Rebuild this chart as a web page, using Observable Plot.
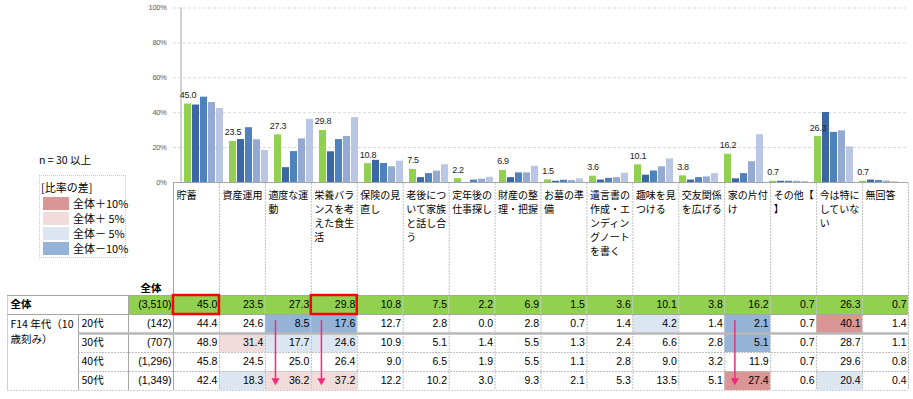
<!DOCTYPE html>
<html>
<head>
<meta charset="utf-8">
<script src="https://cdn.jsdelivr.net/npm/d3@7"></script>
<script src="https://cdn.jsdelivr.net/npm/@observablehq/plot@0.6"></script>
<style>
  body { margin: 0; background: #fff; }
  #root { position: relative; width: 913px; height: 399px; overflow: hidden; font-family: "Noto Sans CJK JP", sans-serif; color: #000; }
  #root > * { position: absolute; }
  #note { left: 39px; top: 152px; font-size: 10.5px; white-space: pre; }
  #legendBox { left: 39px; top: 175px; width: 87px; height: 83px; border: 1px dotted #c8c8c8; box-sizing: border-box; }
  #legendTitle { left: 41px; top: 179px; font-size: 11px; }
  #legendWrap { left: 43px; top: 197px; width: 100px; }
  #legendWrap * { overflow: visible !important; text-overflow: clip !important; white-space: nowrap !important; }
  .lg-swatches { margin: 0 !important; font-family: "Noto Sans CJK JP", sans-serif !important; font-size: 11px !important; }
  .lg-swatch { padding-bottom: 2px !important; line-height: 13px; }
  .lg-swatch > svg { margin-right: 4px !important; }
</style>
</head>
<body>
<div id="root"></div>
<script>
// ---------- data ----------
const categories = ["貯蓄","資産運用","適度な運動","栄養バランスを考えた食生活","保険の見直し","老後について家族と話し合う","定年後の仕事探し","財産の整理・把握","お墓の準備","遺言書の作成・エンディングノートを書く","趣味を見つける","交友関係を広げる","家の片付け","その他【　】","今は特にしていない","無回答"];
const groups = ["全体","20代","30代","40代","50代"];
const sampleSizes = [3510, 142, 707, 1296, 1349];
const totalValues = [45.0,23.5,27.3,29.8,10.8,7.5,2.2,6.9,1.5,3.6,10.1,3.8,16.2,0.7,26.3,0.7];
const age20Values = [44.4,24.6,8.5,17.6,12.7,2.8,0.0,2.8,0.7,1.4,4.2,1.4,2.1,0.7,40.1,1.4];
const age30Values = [48.9,31.4,17.7,24.6,10.9,5.1,1.4,5.5,1.3,2.4,6.6,2.8,5.1,0.7,28.7,1.1];
const age40Values = [45.8,24.5,25.0,26.4,9.0,6.5,1.9,5.5,1.1,2.8,9.0,3.2,11.9,0.7,29.6,0.8];
const age50Values = [42.4,18.3,36.2,37.2,12.2,10.2,3.0,9.3,2.1,5.3,13.5,5.1,27.4,0.6,20.4,0.4];
const yTicks = [0,20,40,60,80,100];
const groupHeader = "F14 年代（10歳刻み）";
const totalLabel = "全体";
const noteText = "n = 30 以上";
const legendTitle = "[比率の差]";
const legendLabels = ["全体＋10%","全体＋ 5%","全体－ 5%","全体－10%"];
const highlightedCats = ["貯蓄","栄養バランスを考えた食生活"];
const arrowCats = ["適度な運動","栄養バランスを考えた食生活","家の片付け"];

// ---------- styles ----------
const barColors = ["#92D050","#3B67A4","#4F81BD","#95AAD3","#B9C7E4"];
const diffColors = ["#DA9694","#F2DCDB","#DCE6F1","#95B3D7"];
const green = "#92D050";
const pink = "#F5287A";
const cjk = "Noto Sans CJK JP";
const num = "Liberation Sans";

const series = [totalValues, age20Values, age30Values, age40Values, age50Values];
const data = groups.flatMap((g, gi) => categories.map((c, ci) => ({cat: c, ci, group: g, gi, value: series[gi][ci]})));

function diffLevel(d) {
  if (d.gi === 0) return null;
  const diff = d.value - totalValues[d.ci];
  if (diff >= 10) return 0;
  if (diff >= 5) return 1;
  if (diff <= -10) return 3;
  if (diff <= -5) return 2;
  return null;
}
function wrapUnits(s, max) {
  const lines = []; let cur = "", w = 0;
  for (const ch of s) {
    const cw = ch.charCodeAt(0) > 0xff ? 2 : 1;
    if (w + cw > max) { lines.push(cur); cur = ""; w = 0; }
    cur += ch; w += cw;
  }
  lines.push(cur);
  return lines.map(l => l.trim()).join("\n");
}

const root = document.getElementById("root");

// ---------- chart ----------
const W = 913, ML = 173, MR = 5;
const step = (W - ML - MR) / categories.length;
const pad = 3, bw = (step - 2 * pad) / groups.length;

const chart = Plot.plot({
  width: W, height: 192,
  marginLeft: ML, marginRight: MR, marginTop: 7.5, marginBottom: 10,
  x: {domain: categories, padding: 0, axis: null},
  y: {domain: [0, 100], ticks: yTicks, tickFormat: d => d + "%", tickSize: 0, tickPadding: 7, label: null},
  style: {fontFamily: num, fontSize: "7.5px", color: "#595959", background: "transparent", letterSpacing: "-0.3px", overflow: "visible"},
  marks: [
    Plot.ruleY(yTicks.filter(d => d > 0), {stroke: "#d9d9d9", strokeDasharray: "3,2"}),
    ...groups.map((g, i) => Plot.barY(data.filter(d => d.gi === i), {
      x: "cat", y: "value", fill: barColors[i],
      insetLeft: pad + i * bw, insetRight: pad + (groups.length - 1 - i) * bw
    })),
    Plot.ruleY([0], {stroke: "#a6a6a6"}),
    Plot.ruleX([categories[0]], {dx: -step / 2, stroke: "#a6a6a6"}),
    Plot.text(data.filter(d => d.gi === 0), {
      x: "cat", y: "value", text: d => d.value.toFixed(1),
      dx: -2 * bw, dy: -6, lineAnchor: "bottom", fontSize: 9, fill: "#222", fontFamily: num
    })
  ]
});
chart.style.left = "0px"; chart.style.top = "0px";
root.appendChild(chart);

// ---------- table ----------
const LEFT = -(ML - 7) / step;     // left border of table
const AGECOL = -(ML - 78) / step;  // left edge of age label column
const NCOL = -(ML - 128) / step;   // left edge of n column
const HEADER_TOP = -112 / 19;      // header row top, in row units
const nCats = categories.length;

const fmt = d3.format(",");
const cells = data.map(d => ({...d, level: diffLevel(d)}));
const arrowData = arrowCats.map(c => ({ci: categories.indexOf(c)}));
const lineGray = "#a6a6a6", dotGray = "#c0c0c0";

const table = Plot.plot({
  width: W, height: 216,
  x: {domain: [LEFT, nCats], range: [7, W - MR], axis: null},
  y: {domain: [HEADER_TOP, groups.length], range: [0, 207], axis: null},
  style: {background: "transparent", fontFamily: cjk},
  marks: [
    // cell fills
    Plot.rect(cells.filter(d => d.gi === 0 || d.level !== null), {
      x1: d => d.ci, x2: d => d.ci + 1, y1: d => d.gi, y2: d => d.gi + 1,
      fill: d => d.gi === 0 ? green : diffColors[d.level]
    }),
    Plot.rect([groups[0]], {x1: NCOL, x2: 0, y1: 0, y2: 1, fill: green}),
    // vertical lines
    Plot.ruleX(d3.range(1, nCats + 1), {y1: HEADER_TOP, y2: groups.length, stroke: dotGray, strokeDasharray: "2,1"}),
    Plot.ruleX([0], {y1: HEADER_TOP, y2: groups.length, stroke: lineGray}),
    Plot.ruleX([NCOL], {y1: 0, y2: groups.length, stroke: lineGray}),
    Plot.ruleX([AGECOL], {y1: 1, y2: groups.length, stroke: lineGray}),
    Plot.ruleX([LEFT], {y1: 0, y2: groups.length, stroke: "#d0d0d0"}),
    // horizontal lines
    Plot.ruleY([0, 1], {x1: LEFT, x2: nCats, stroke: lineGray}),
    Plot.ruleY([2], {x1: AGECOL, x2: nCats, stroke: "#b8b8b8", strokeWidth: 2.5}),
    Plot.ruleY([3, 4], {x1: AGECOL, x2: nCats, stroke: dotGray, strokeDasharray: "2,1"}),
    Plot.ruleY([groups.length], {x1: LEFT, x2: nCats, stroke: "#d0d0d0", strokeDasharray: "2,1"}),
    // header labels
    Plot.text(categories, {
      x: (d, i) => i, y: HEADER_TOP, text: d => wrapUnits(d, 8),
      textAnchor: "start", lineAnchor: "top", dx: 3, dy: 5, lineHeight: 1.42, fontSize: 10, fill: "#000"
    }),
    Plot.text([totalLabel], {x: NCOL / 2, y: 0, dy: -7, fontWeight: "bold", fontSize: 10.5, fill: "#000"}),
    // row labels
    Plot.text([totalLabel], {x: LEFT, y: 0.5, dx: 3, textAnchor: "start", fontWeight: "bold", fontSize: 10.5, fill: "#000"}),
    Plot.text([groupHeader], {x: LEFT, y: 1, text: d => wrapUnits(d, 12), dx: 3, dy: 3, textAnchor: "start", lineAnchor: "top", lineHeight: 1.4, fontSize: 10.5, fill: "#000"}),
    Plot.text(groups.slice(1), {x: AGECOL, y: (d, i) => i + 1.5, dx: 3, textAnchor: "start", fontSize: 10.5, fill: "#000"}),
    Plot.text(sampleSizes, {x: 0, y: (d, i) => i + 0.5, text: d => `(${fmt(d)})`, dx: -2, textAnchor: "end", fontSize: 10.5, fontFamily: num, fill: "#000"}),
    // values
    Plot.text(cells, {x: d => d.ci + 1, y: d => d.gi + 0.5, text: d => d.value.toFixed(1), dx: -2, textAnchor: "end", fontSize: 10.5, fontFamily: num, fill: "#000"}),
    // red boxes
    Plot.rect(highlightedCats, {x1: d => categories.indexOf(d), x2: d => categories.indexOf(d) + 1, y1: 0, y2: 1, fill: "none", stroke: "#ff0000", strokeWidth: 2.5}),
    // arrows
    Plot.link(arrowData, {x1: d => d.ci + 0.22, x2: d => d.ci + 0.22, y1: 1.3, y2: 4.45, stroke: pink, strokeWidth: 1.5}),
    Plot.dot(arrowData, {x: d => d.ci + 0.22, y: 4.48, symbol: "triangle", rotate: 180, r: 3, fill: pink, stroke: "none"})
  ]
});
table.style.left = "0px"; table.style.top = "183px";
root.appendChild(table);

// ---------- note & legend ----------
const note = document.createElement("div"); note.id = "note"; note.textContent = noteText; root.appendChild(note);
const box = document.createElement("div"); box.id = "legendBox"; root.appendChild(box);
const title = document.createElement("div"); title.id = "legendTitle"; title.textContent = legendTitle; root.appendChild(title);
const lgWrap = document.createElement("div"); lgWrap.id = "legendWrap";
lgWrap.appendChild(Plot.legend({
  color: {type: "ordinal", domain: legendLabels, range: diffColors},
  legend: "swatches", columns: 1, swatchWidth: 26, swatchHeight: 13, className: "lg"
}));
root.appendChild(lgWrap);
</script>
</body>
</html>
